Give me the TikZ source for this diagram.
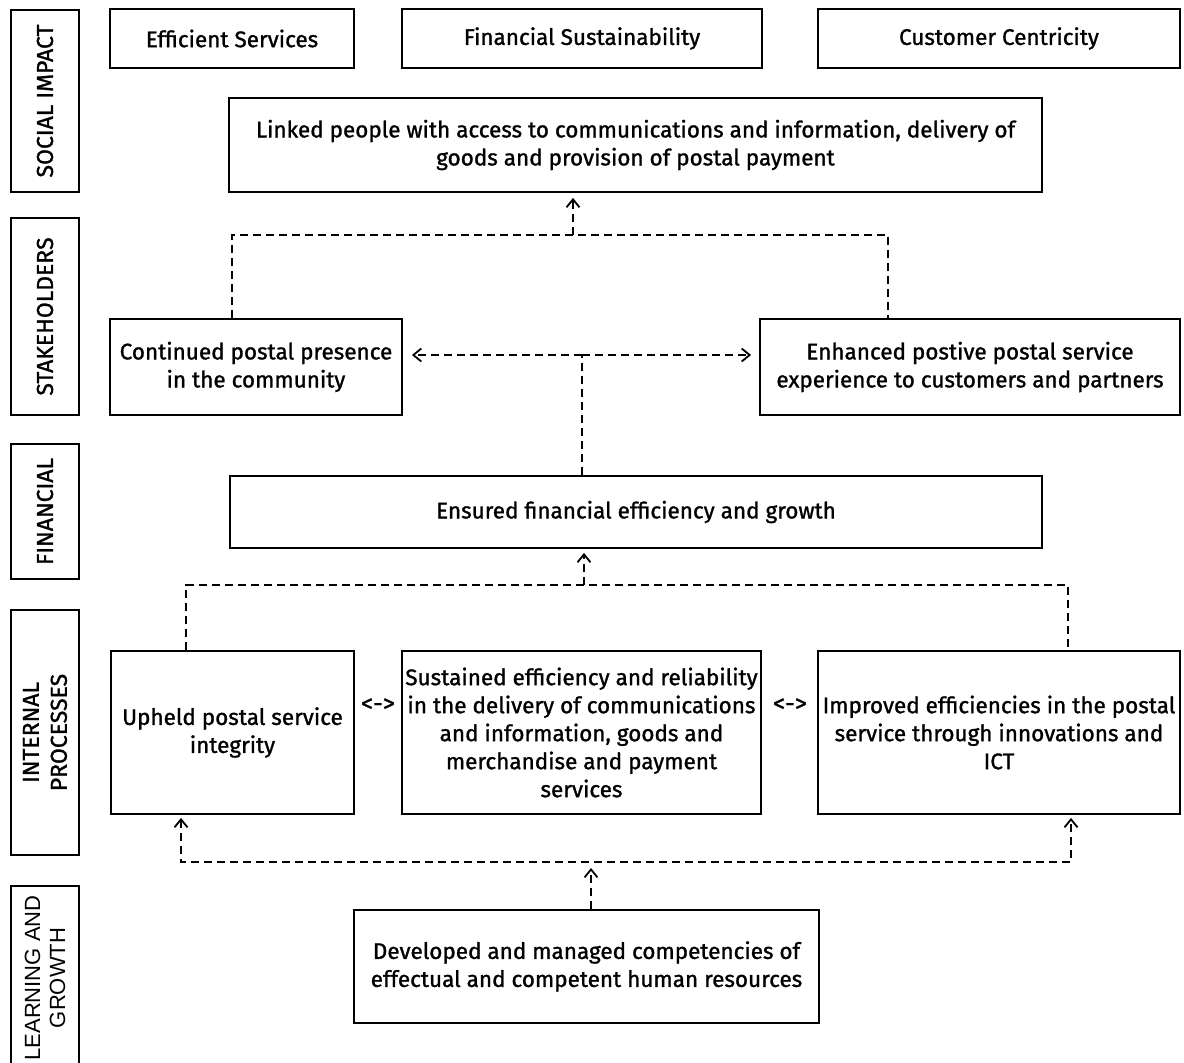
\documentclass[tikz,border=0pt]{standalone}
\usepackage{fontspec}
\setmainfont{Fira Sans}[UprightFeatures={FakeBold=1.2}]
\newfontfamily\arialfont{Liberation Sans}
\usetikzlibrary{arrows,arrows.meta}

\begin{document}
\begin{tikzpicture}[x=1pt,y=-1pt]
\tikzstyle{every node}+=[inner sep=0pt]
\tikzstyle{goal}=[draw=black,line width=1.8pt,align=center,font=\fontsize{22.5}{28}\selectfont]
\tikzstyle{side}=[goal,rotate=90,minimum height=68pt,font=\fontsize{23}{28}\selectfont]
\tikzstyle{dline}=[black,line width=1.6pt,dash pattern=on 8pt off 5pt]
\tikzstyle{uptip}=[-{Straight Barb[length=8pt,width=13pt,line width=1.8pt]}]
\tikzstyle{bothtip}=[{Straight Barb[length=8pt,width=13pt,line width=1.8pt]}-{Straight Barb[length=8pt,width=13pt,line width=1.8pt]}]
\useasboundingbox (0,0) rectangle (1184,1063);
% perspective labels
\node [side,minimum width=182pt] (social) at (45,101) {SOCIAL IMPACT};
\node [side,minimum width=197pt] (stake) at (45,316.5) {STAKEHOLDERS};
\node [side,minimum width=135pt] (fin) at (45,511.5) {FINANCIAL};
\node [side,minimum width=245pt] (internal) at (45,732.5) {INTERNAL\\PROCESSES};
\node [side,minimum width=184pt,font=\arialfont\fontsize{22}{25}\selectfont] (learn) at (45,978) {LEARNING AND\\GROWTH};
% objectives
\node [goal,minimum width=244pt,minimum height=59pt] (es) at (232,38.5) {Efficient Services};
\node [goal,minimum width=360pt,minimum height=59pt] (fs) at (582,38.5) {Financial Sustainability};
\node [goal,minimum width=362pt,minimum height=59pt] (cc) at (999,38.5) {Customer Centricity};
\node [goal,minimum width=813pt,minimum height=94pt] (lp) at (635.5,145) {Linked people with access to communications and information, delivery of\\goods and provision of postal payment};
\node [goal,minimum width=292pt,minimum height=96pt] (cp) at (256,367) {Continued postal presence\\in the community};
\node [goal,minimum width=420pt,minimum height=96pt] (ep) at (970,367) {Enhanced postive postal service\\experience to customers and partners};
\node [goal,minimum width=812pt,minimum height=72pt] (ef) at (636,512) {Ensured financial efficiency and growth};
\node [goal,minimum width=243pt,minimum height=163pt] (up) at (232.5,732.5) {Upheld postal service\\integrity};
\node [goal,minimum width=359pt,minimum height=163pt] (se) at (581.5,732.5) {Sustained efficiency and reliability\\in the delivery of communications\\and information, goods and\\merchandise and payment\\services};
\node [goal,minimum width=362pt,minimum height=163pt] (ie) at (999,732.5) {Improved efficiencies in the postal\\service through innovations and\\ICT};
\node [goal,minimum width=465pt,minimum height=113pt] (dm) at (586.5,966.5) {Developed and managed competencies of\\effectual and competent human resources};
\node [font=\fontsize{24}{28}\selectfont] (lr1) at (378,705) {<->};
\node [font=\fontsize{24}{28}\selectfont] (lr2) at (790,705) {<->};
% links
\coordinate (t0) at (573,235);
\coordinate (t1) at (232,235);
\coordinate (t2) at (888,235);
\draw [dline] (cp.north -| t1) -- (t1) -- (t2) -- (ep.north -| t2);
\draw [dline,uptip,shorten >=5pt] (t0) -- (lp.south -| t0);
\coordinate (s0) at (582,355);
\draw [dline] (ef.north -| s0) -- (s0);
\draw [dline,uptip,shorten >=9pt] (s0) -- (cp.east |- s0);
\draw [dline,uptip,shorten >=8pt] (s0) -- (ep.west |- s0);
\coordinate (f0) at (584,585);
\coordinate (f1) at (186,585);
\coordinate (f2) at (1068,585);
\draw [dline] (up.north -| f1) -- (f1) -- (f2) -- (ie.north -| f2);
\draw [dline,uptip,shorten >=4pt] (f0) -- (ef.south -| f0);
\coordinate (g0) at (591,862);
\coordinate (g1) at (181,862);
\coordinate (g2) at (1071,862);
\draw [dline,bothtip,shorten <=3pt,shorten >=3pt] (up.south -| g1) -- (g1) -- (g2) -- (ie.south -| g2);
\draw [dline,uptip,shorten >=6pt] (dm.north -| g0) -- (g0);
\end{tikzpicture}
\end{document}
